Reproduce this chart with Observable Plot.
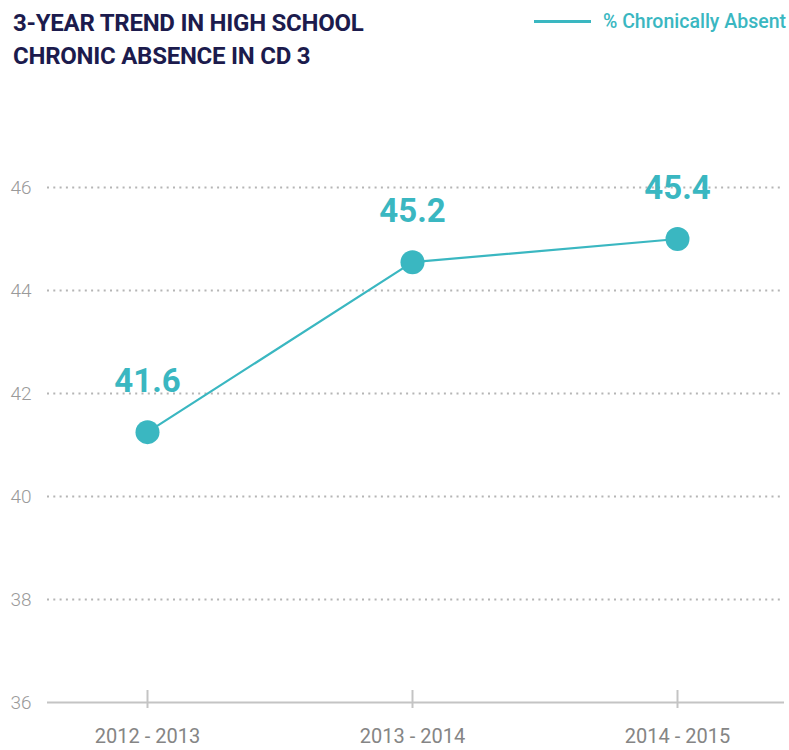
<!DOCTYPE html>
<html>
<head>
<meta charset="utf-8">
<script src="https://cdn.jsdelivr.net/npm/d3@7"></script>
<script src="https://cdn.jsdelivr.net/npm/@observablehq/plot@0.6"></script>
<style>
  body { margin: 0; background: #fff; font-family: Roboto, "Open Sans", sans-serif; }
  #wrap { width: 789px; }
  #header { position: relative; height: 90px; }
  #title { position: absolute; left: 13px; top: 7px; font-size: 24px; line-height: 33px; font-weight: 700; color: #1c1b4d; letter-spacing: -0.25px; }
  #legend { position: absolute; right: 3px; top: 10px; display: flex; align-items: center; color: #3ab7c1; font-size: 19.5px; font-weight: 500; }
  #legend .sw { width: 57px; height: 3px; background: #3ab7c1; margin-right: 12px; }
</style>
</head>
<body>
<div id="wrap">
  <div id="header">
    <div id="title">3-YEAR TREND IN HIGH SCHOOL<br>CHRONIC ABSENCE IN CD 3</div>
    <div id="legend"><span class="sw"></span><span>% Chronically Absent</span></div>
  </div>
  <div id="chart"></div>
</div>
<script>
const years = ["2012 - 2013", "2013 - 2014", "2014 - 2015"];
const absent = [41.25, 44.55, 45.0];
const valueLabels = ["41.6", "45.2", "45.4"];
const yTicks = [36, 38, 40, 42, 44, 46];
const gridTicks = [38, 40, 42, 44, 46];

const data = years.map((y, i) => ({year: y, value: absent[i], label: valueLabels[i]}));
const teal = "#3ab7c1";

const chart = Plot.plot({
  width: 789,
  height: 660,
  marginLeft: 47,
  marginRight: 5,
  marginTop: 45.5,
  marginBottom: 48,
  style: {fontFamily: "Roboto, sans-serif", background: "#fff"},
  x: {type: "point", domain: years, padding: 0.39, align: 0.483, label: null},
  y: {domain: [36, 47], label: null},
  marks: [
    Plot.gridY(gridTicks, {stroke: "#b5b5b5", strokeOpacity: 1, strokeWidth: 2, strokeDasharray: "2,4.3"}),
    Plot.ruleY([36], {stroke: "#c4c4c4", strokeWidth: 2}),
    Plot.axisX({tickSize: 18, dy: -12, text: null, stroke: "#c4c4c4", strokeWidth: 2}),
    Plot.axisX({tickSize: 0, tickPadding: 26, fontSize: 20, fontWeight: 400, fill: "#858585", label: null}),
    Plot.axisY({ticks: yTicks, tickSize: 0, tickPadding: 0, textAnchor: "start", dx: -37, fontSize: 19, fontWeight: 300, fill: "#9a9a9a", label: null}),
    Plot.line(data, {x: "year", y: "value", stroke: teal, strokeWidth: 2.2}),
    Plot.dot(data, {x: "year", y: "value", r: 12, fill: teal, stroke: "none"}),
    Plot.text(data, {x: "year", y: "value", text: "label", dy: -51, fontSize: 33, fontWeight: 700, fill: teal})
  ]
});
document.getElementById("chart").appendChild(chart);
</script>
</body>
</html>
